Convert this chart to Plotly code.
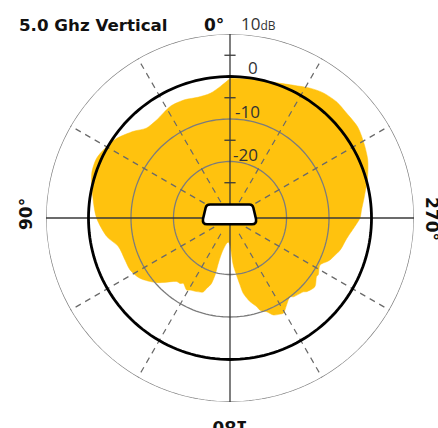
import plotly.graph_objects as go

# angle (deg, counter-clockwise from top) and gain (dB)
theta_deg = [0, 4, 9, 15, 21, 28, 37, 43, 48, 55, 61, 66, 72, 81, 90,
             98.6, 104.4, 111.8, 117.5, 123.8, 131.4, 140.1, 142.6, 144.4, 149, 150.9, 155.7,
             160.1, 161.7, 164, 165.3, 165.6, 167, 172, 176, 180, 184, 188.5, 190,
             193.4, 196.8, 198, 201.4, 204.1, 207.5, 209.2, 210.9, 213.1, 217.3, 218.8,
             224.8, 226.1, 231, 235.9, 237.2, 242.4, 245.7, 247.2, 249.5, 253.8, 260.1,
             266, 270, 273.5, 279, 286.7, 293, 299.2, 305.4, 311.9, 317.5, 323.5, 328.3,
             335.7, 343.6, 350.5, 360]
gain_db = [-0.5, -2.2, -3.6, -3.9, -3.5, -3.5, -4.5, -4.4, -2.8, -0.7, 0.4, 1.1, 0.9, -0.6, -1.9,
           -4.0, -6.2, -6.7, -6.8, -7.8, -10.3, -13.8, -13.9, -14.4, -13.5, -13.9, -14.3,
           -14.8, -15.9, -17.1, -19.4, -22.7, -25.1, -27.2, -27.6, -26.9, -22.2, -17.4, -15.3,
           -13.1, -11.5, -10.5, -9.6, -8.3, -7.8, -7.6, -8.1, -8.9, -10.0, -9.5,
           -8.8, -8.3, -7.6, -8.7, -8.6, -9.4, -8.3, -7.8, -7.3, -6.3, -5.4,
           -3.9, -2.7, -2.3, -1.3, 0.5, 1.9, 2.8, 3.6, 3.6, 3.8, 3.4, 2.6,
           1.1, 0.1, -0.2, -0.4]

ring_db = [10, -10, -20]
minor_ticks = [5, -5, -15, -25]
spoke_angles = [30, 60, 120, 150, 210, 240, 300, 330]
axis_angles = [0, 90, 180, 270]
ring_labels = ["0", "-10", "-20"]

R_MIN, R_MAX, R_EXT = -33.3, 10, 12.6
circle = list(range(0, 361, 2))

fig = go.Figure()

fig.add_trace(go.Scatterpolar(
    r=gain_db, theta=theta_deg, mode="lines", fill="toself",
    fillcolor="#FFC20E", line=dict(color="#FFC20E", width=0.5, shape="spline", smoothing=0.8),
    hoverinfo="skip",
))

for db in ring_db:
    fig.add_trace(go.Scatterpolar(
        r=[db] * len(circle), theta=circle, mode="lines", cliponaxis=False,
        line=dict(color="#7c7c7c", width=1.3), hoverinfo="skip",
    ))

for a in spoke_angles:
    fig.add_trace(go.Scatterpolar(
        r=[-29, 12.3], theta=[a, a], mode="lines", cliponaxis=False,
        line=dict(color="#6a6a6a", width=1.2, dash="6px,5px"), hoverinfo="skip",
    ))

for a in axis_angles:
    fig.add_trace(go.Scatterpolar(
        r=[R_MIN, R_EXT], theta=[a, a], mode="lines", cliponaxis=False,
        line=dict(color="#3a3a3a", width=1.3), hoverinfo="skip",
    ))

# 0 dB reference circle
fig.add_trace(go.Scatterpolar(
    r=[0] * len(circle), theta=circle, mode="lines",
    line=dict(color="black", width=2.8), hoverinfo="skip",
))

fig.add_trace(go.Scatterpolar(
    r=minor_ticks, theta=[0] * len(minor_ticks), mode="markers",
    marker=dict(symbol="line-ew", size=8, line=dict(color="#3a3a3a", width=1.3)),
    hoverinfo="skip",
))

# pixel -> paper helpers (plot area is 368x368 starting at (46, 34))
def px(x):
    return (x - 46) / 368


def py(y):
    return (402 - y) / 368


def pt(x, y):
    return f"{px(x):.4f},{py(y):.4f}"


dev_path = ("M " + pt(210, 204.5) + " L " + pt(249.5, 204.5) + " Q " + pt(252.5, 204.5) + " " + pt(253.3, 207.5)
            + " L " + pt(256, 219) + " Q " + pt(256.8, 224.3) + " " + pt(252, 224.3)
            + " L " + pt(207, 224.3) + " Q " + pt(202.3, 224.3) + " " + pt(203, 219)
            + " L " + pt(205.7, 207.5) + " Q " + pt(206.5, 204.5) + " " + pt(210, 204.5) + " Z")

fig.update_layout(
    width=438, height=428,
    margin=dict(l=46, r=24, t=34, b=26),
    paper_bgcolor="white",
    showlegend=False,
    font=dict(family="Open Sans", color="#222"),
    polar=dict(
        domain=dict(x=[0, 1], y=[0, 1]),
        bgcolor="white",
        radialaxis=dict(visible=False, range=[R_MIN, R_MAX], showgrid=False),
        angularaxis=dict(visible=False, rotation=90, direction="counterclockwise", showgrid=False),
    ),
    shapes=[dict(type="path", xref="paper", yref="paper", path=dev_path,
                 fillcolor="white", line=dict(color="black", width=2.6), layer="above")],
)

bold = dict(family="DejaVu Sans", size=17, color="#111")
ann = [
    dict(x=px(17), y=py(25), text="<b>5.0 Ghz Vertical</b>", xanchor="left",
         font=dict(family="DejaVu Sans", size=16.7, color="#111")),
    dict(x=px(214), y=py(25), text="<b>0°</b>", xanchor="center", font=bold),
    dict(x=px(26), y=py(214), text="<b>90°</b>", textangle=-90, font=bold),
    dict(x=px(432), y=py(219), text="<b>270°</b>", textangle=90, font=bold),
    dict(x=px(226), y=py(427), text="<b>180°</b>", textangle=180, font=bold),
    dict(x=px(239), y=py(24), text="10<span style='font-size:12px'>dB</span>", xanchor="left",
         font=dict(family="Open Sans", size=17, color="#333")),
]
for lab, (x, y) in zip(ring_labels, [(253, 68), (247, 111), (245, 154)]):
    ann.append(dict(x=px(x), y=py(y), text=lab, font=dict(family="Open Sans", size=17, color="#333")))
for a in ann:
    a.update(xref="paper", yref="paper", showarrow=False, yanchor="middle")
    a.setdefault("xanchor", "center")
fig.update_layout(annotations=ann)

fig.write_html("out.html", config={"displayModeBar": False},
               post_script="document.body.style.margin='0';")
